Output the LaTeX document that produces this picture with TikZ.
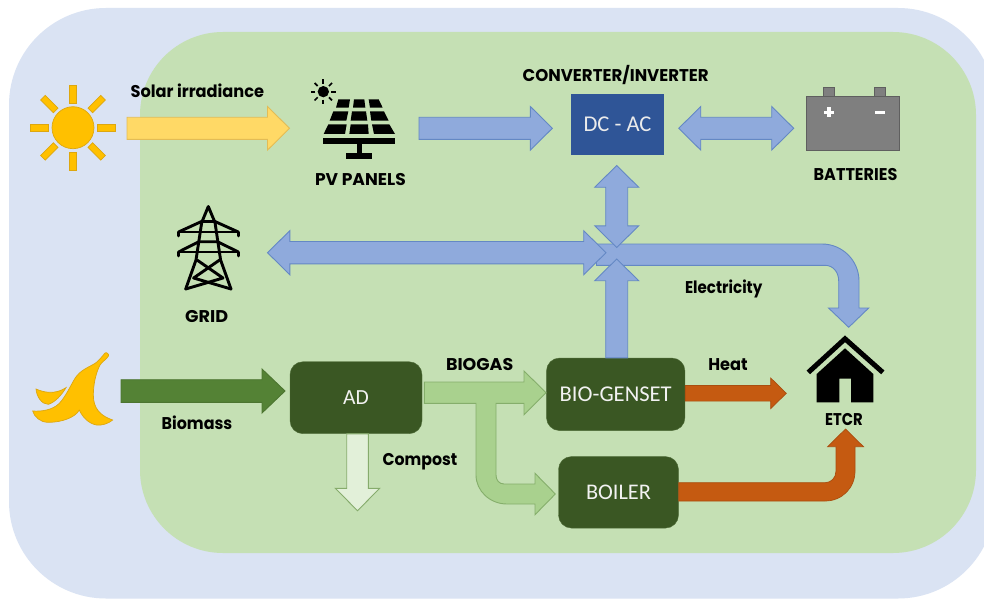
\documentclass[tikz,border=0pt]{standalone}
\usepackage{graphicx}
\usepackage{fontspec}
\setmainfont{Poppins}
\newfontfamily\boxfont{Carlito}
\usetikzlibrary{calc}
\definecolor{bgblue}{HTML}{DAE3F3}
\definecolor{bggreen}{HTML}{C5E0B4}
\definecolor{darkgreen}{HTML}{3A5723}
\definecolor{blueA}{HTML}{8FAADC}
\definecolor{blueL}{HTML}{6488C4}
\definecolor{sunY}{HTML}{FFC000}
\definecolor{sunL}{HTML}{DDA70F}
\definecolor{arY}{HTML}{FFD966}
\definecolor{arYL}{HTML}{E3BC55}
\definecolor{arBio}{HTML}{548235}
\definecolor{arBioL}{HTML}{4C7530}
\definecolor{arCom}{HTML}{E2F0D9}
\definecolor{arComL}{HTML}{86AB6C}
\definecolor{arGas}{HTML}{A9D18E}
\definecolor{arGasL}{HTML}{85AE6B}
\definecolor{arHeat}{HTML}{C55A11}
\definecolor{arHeatL}{HTML}{A94E10}
\definecolor{dcblue}{HTML}{2F5597}
\definecolor{batfill}{HTML}{7F7F7F}
\definecolor{batline}{HTML}{5F5F5F}
\newcommand{\fitw}[2]{\resizebox{#1pt}{!}{#2}}
\newcommand{\fitl}[2]{\resizebox{#1pt}{\height}{\fontsize{17}{20}\selectfont\bfseries #2}}
% straight block arrow: style, from, to, shaft half width, head half width, head length
\newcommand{\blockone}[6]{%
  \coordinate (hh) at ($(#3)!#6pt!(#2)$);
  \draw[#1] ($(#2)!#4pt!90:(#3)$) -- ($(hh)!#4pt!90:(#3)$) -- ($(hh)!#5pt!90:(#3)$) -- (#3)
    -- ($(hh)!#5pt!-90:(#3)$) -- ($(hh)!#4pt!-90:(#3)$) -- ($(#2)!#4pt!-90:(#3)$) -- cycle;}
\newcommand{\blocktwo}[6]{%
  \coordinate (hh) at ($(#3)!#6pt!(#2)$);
  \coordinate (gg) at ($(#2)!#6pt!(#3)$);
  \draw[#1] (#2) -- ($(gg)!#5pt!90:(#3)$) -- ($(gg)!#4pt!90:(#3)$) -- ($(hh)!#4pt!90:(#3)$) -- ($(hh)!#5pt!90:(#3)$) -- (#3)
    -- ($(hh)!#5pt!-90:(#3)$) -- ($(hh)!#4pt!-90:(#3)$) -- ($(gg)!#4pt!-90:(#3)$) -- ($(gg)!#5pt!-90:(#3)$) -- cycle;}
\tikzset{
  lbl/.style={inner sep=0pt,anchor=base,text=black},
  procbox/.style={draw=darkgreen!85!bggreen,fill=darkgreen,rounded corners=13pt,inner sep=0pt,text=white!95!black,font=\boxfont},
  aryellow/.style={fill=arY,draw=arYL,line width=0.9pt},
  arblue/.style={fill=blueA,draw=blueL,line width=0.9pt},
  arbiomass/.style={fill=arBio,draw=arBioL,line width=0.9pt},
  arcompost/.style={fill=arCom,draw=arComL,line width=0.9pt},
  arbiogas/.style={fill=arGas,draw=arGasL,line width=0.9pt},
  arheat/.style={fill=arHeat,draw=arHeatL,line width=0.7pt},
  sunpart/.style={fill=sunY,draw=sunL,line width=0.7pt},
  icon/.style={fill=black,draw=none},
  pylon/.style={draw=black,line width=2.9pt,line cap=round,line join=round},
}
\begin{document}
\begin{tikzpicture}[x=1pt,y=-1pt]
\useasboundingbox (0,0) rectangle (984,599);
% backgrounds
\fill[white] (0,0) rectangle (984,599);
\begin{scope}
\clip (0,0) rectangle (984,599);
\fill[bgblue,rounded corners=97pt] (9,8) rectangle (995,598.5);
\end{scope}
\fill[bggreen,rounded corners=83pt] (140,32) rectangle (976,553);

% process boxes
\node[fill=dcblue,inner sep=0pt,minimum width=93.5pt,minimum height=61.5pt,text=white!92!black,font=\boxfont] (dcac) at (617.5,124.3) {\fitw{68}{DC - AC}};
\node[procbox,minimum width=132pt,minimum height=72pt] (ad) at (356,397.7) {\fitw{25.7}{AD}};
\node[procbox,minimum width=138.5pt,minimum height=72.5pt] (genset) at (615.7,394.3) {\fitw{112}{BIO-GENSET}};
\node[procbox,minimum width=120pt,minimum height=71.5pt] (boiler) at (618.5,492.3) {\fitw{65}{BOILER}};

% sun
\coordinate (sun) at (73,127.7);
\foreach \a in {0,45,...,315}{
  \draw[sunpart,shift={(sun)},rotate=\a] (24.5,-3.3) rectangle (42.5,3.3);
}
\draw[sunpart] (sun) circle[radius=21pt];

% PV panel icon
\begin{scope}[shift={(300,70)},xscale=1/3,yscale=1/3]
  \fill[icon] (70,65) circle[radius=17pt];
  \foreach \a in {0,45,...,315}{
    \draw[black,line width=1.7pt,shift={(70,65)},rotate=\a] (24,0) -- (37,0);
  }
  \fill[icon] (115,88) -- (150,88) -- (146,113) -- (108,113) -- cycle;
  \fill[icon] (162,88) -- (193,88) -- (196,113) -- (159,113) -- cycle;
  \fill[icon] (206,88) -- (236,88) -- (248,113) -- (210,113) -- cycle;
  \fill[icon] (100,124) -- (145,124) -- (139,152) -- (89,152) -- cycle;
  \fill[icon] (156,124) -- (198,124) -- (202,152) -- (152,152) -- cycle;
  \fill[icon] (210,124) -- (252,124) -- (266,152) -- (214,152) -- cycle;
  \fill[icon] (85,163) -- (140,163) -- (135,192) -- (71,192) -- cycle;
  \fill[icon] (152,163) -- (204,163) -- (206,192) -- (148,192) -- cycle;
  \fill[icon] (216,163) -- (268,163) -- (285,192) -- (222,192) -- cycle;
  \fill[icon] (70,205) rectangle (285,222);
  \fill[icon] (170,222) rectangle (186,250);
  \fill[icon] (138,250) rectangle (216,266);
\end{scope}

% battery
\draw[batline,fill=batfill,line width=0.8pt] (823.5,97) -- (823.5,87.5) -- (834.7,87.5) -- (834.7,97);
\draw[batline,fill=batfill,line width=0.8pt] (874.3,97) -- (874.3,87.5) -- (885.7,87.5) -- (885.7,97);
\draw[batline,fill=batfill,line width=0.9pt] (806.7,96.8) rectangle (899.7,150);
\fill[white] (827.2,107.5) rectangle (831,117.5);
\fill[white] (824.2,110.6) rectangle (834,114.4);
\fill[white] (875,110.7) rectangle (885,114.3);

% grid pylon
\begin{scope}[pylon]
  \draw (185.7,289) -- (196,260) -- (201.7,222.5) -- (208.3,206.5) -- (215,222.5) -- (220.6,260) -- (231,289);
  \draw (178.5,236) -- (178.5,232) -- (238.3,232) -- (238.3,236);
  \draw (178.5,232) -- (201.5,221.5) -- (215,221.5) -- (238.3,232);
  \draw (178.5,256) -- (178.5,252) -- (238.3,252) -- (238.3,256);
  \draw (178.5,252) -- (199,241.7) -- (217.6,241.7) -- (238.3,252);
  \draw (197,260) -- (223,278) -- (185.7,289);
  \draw (219.6,260) -- (193.6,278) -- (231,289);
\end{scope}

% house
\fill[icon] (845,348.3) -- (873.3,374) -- (873.3,402.3) -- (851,402.3) -- (851,378.7) -- (839.3,378.7) -- (839.3,402.3) -- (816.7,402.3) -- (816.7,374) -- cycle;
\draw[black,line width=5pt,miter limit=10] (808.3,372.4) -- (845,338.8) -- (882.8,372.4);

% banana
\begin{scope}[shift={(25,345)},xscale=1/3,yscale=1/3]
  \draw[sunpart] (240,24) .. controls (244,20) and (254,28) .. (250,34)
    .. controls (240,46) and (230,52) .. (225,60)
    .. controls (212,85) and (205,120) .. (205,150)
    .. controls (205,190) and (225,212) .. (263,225)
    .. controls (250,236) and (230,242) .. (215,240)
    .. controls (190,236) and (172,215) .. (163,195)
    .. controls (150,218) and (110,232) .. (70,232)
    .. controls (45,232) and (28,215) .. (23,198)
    .. controls (50,200) and (82,195) .. (102,176)
    .. controls (122,155) and (135,125) .. (150,100)
    .. controls (165,75) and (195,65) .. (212,54)
    .. controls (222,46) and (232,34) .. (240,24) -- cycle;
  \draw[sunpart] (33,132) .. controls (55,142) and (90,150) .. (123,128)
    .. controls (110,150) and (90,172) .. (70,178)
    .. controls (50,178) and (35,155) .. (33,132) -- cycle;
\end{scope}

% arrow ends
\coordinate (solarA) at ($(sun)+(54,0.6)$);
\coordinate (solarB) at (289.5,128.3);
\coordinate (pvA) at (419,128.3);
\coordinate (dcW) at ($(dcac.west)+(-18.2,4)$);
\coordinate (dcE) at ($(dcac.east)+(14.3,4)$);
\coordinate (batW) at (793.7,128.3);
\coordinate (dcS) at ($(dcac.south)+(-0.8,10.3)$);
\coordinate (hub) at (616.7,247.5);
\coordinate (gridE) at (267.5,252.7);
\coordinate (hubW) at (606,252.7);
\coordinate (hubS) at (616.7,259);
\coordinate (gensetN) at ($(genset.north)+(1,0)$);
\coordinate (bioA) at (121,391);
\coordinate (adW) at (285,391);
\coordinate (adS) at ($(ad.south)+(1.5,0)$);
\coordinate (compostB) at (357.5,510.7);
\coordinate (gensetE) at ($(genset.east)+(0,-1)$);
\coordinate (heatB) at (786.3,393.3);

% arrows
\blockone{aryellow}{solarA}{solarB}{11}{21.8}{22}
\blockone{arblue}{pvA}{dcW}{11}{21.8}{22}
\blocktwo{arblue}{dcE}{batW}{11}{21.8}{22}
\draw[arblue] (596.5,244) -- (822,244) .. controls (842.4,244) and (859,260.6) .. (859,281)
  -- (859,308) -- (868.7,308) -- (848.7,327.3) -- (828.5,308) -- (838.7,308) -- (838.7,281)
  .. controls (838.7,272) and (833,265.3) .. (825,265.3) -- (596.5,265.3) -- cycle;
\blocktwo{arblue}{gridE}{hubW}{11.2}{22}{22.3}
\blocktwo{arblue}{dcS}{hub}{11}{22}{21.7}
\blockone{arblue}{gensetN}{hubS}{11}{22}{21.7}
\blockone{arbiomass}{bioA}{adW}{11.3}{22}{23}
\blockone{arcompost}{adS}{compostB}{10.8}{22.2}{22.4}
\draw[arbiogas] (424.3,382) -- (524,382) -- (524,371) -- (546,392.7) -- (524,414.7) -- (524,403.3) -- (496,403.3) -- (496,475)
  .. controls (496,480) and (499,484) .. (504,484) -- (535,484) -- (535,473.3) -- (555.3,494) -- (535,514.7) -- (535,504) -- (507,504)
  .. controls (490,504) and (476,491) .. (476,475) -- (476,403.3) -- (424.3,403.3) -- cycle;
\blockone{arheat}{gensetE}{heatB}{7.8}{15.3}{15.6}
\draw[arheat] (boiler.east |- 0,482.7) -- (825,482.7) .. controls (831,482.7) and (836,478) .. (836,471) -- (836,446.7) -- (827.7,446.7) -- (845.5,429) -- (863.5,446.7) -- (855,446.7) -- (855,471) .. controls (855,488) and (842,501) .. (825,501) -- (boiler.east |- 0,501) -- cycle;

% labels
\node[lbl] (lsolar) at (197.4,97.7) {\fitl{133.5}{Solar irradiance}};
\node[lbl] (lconv) at (615.7,81.7) {\fitl{186}{CONVERTER/INVERTER}};
\node[lbl] (lpv) at (360.4,185.3) {\fitl{90.7}{PV PANELS}};
\node[lbl] (lbat) at (855.5,180.7) {\fitl{83.7}{BATTERIES}};
\node[lbl] (lgrid) at (206.7,322.3) {\fitl{43}{GRID}};
\node[lbl] (lelec) at (723.7,293.3) {\fitl{77.3}{Electricity}};
\node[lbl] (lbiom) at (197,429) {\fitl{70.7}{Biomass}};
\node[lbl] (lcomp) at (420,465) {\fitl{74.7}{Compost}};
\node[lbl] (lbiog) at (479.7,370.7) {\fitl{67.3}{BIOGAS}};
\node[lbl] (lheat) at (728,370) {\fitl{39.3}{Heat}};
\node[lbl] (letcr) at (844,425) {\fitl{37.7}{ETCR}};
\end{tikzpicture}
\end{document}
